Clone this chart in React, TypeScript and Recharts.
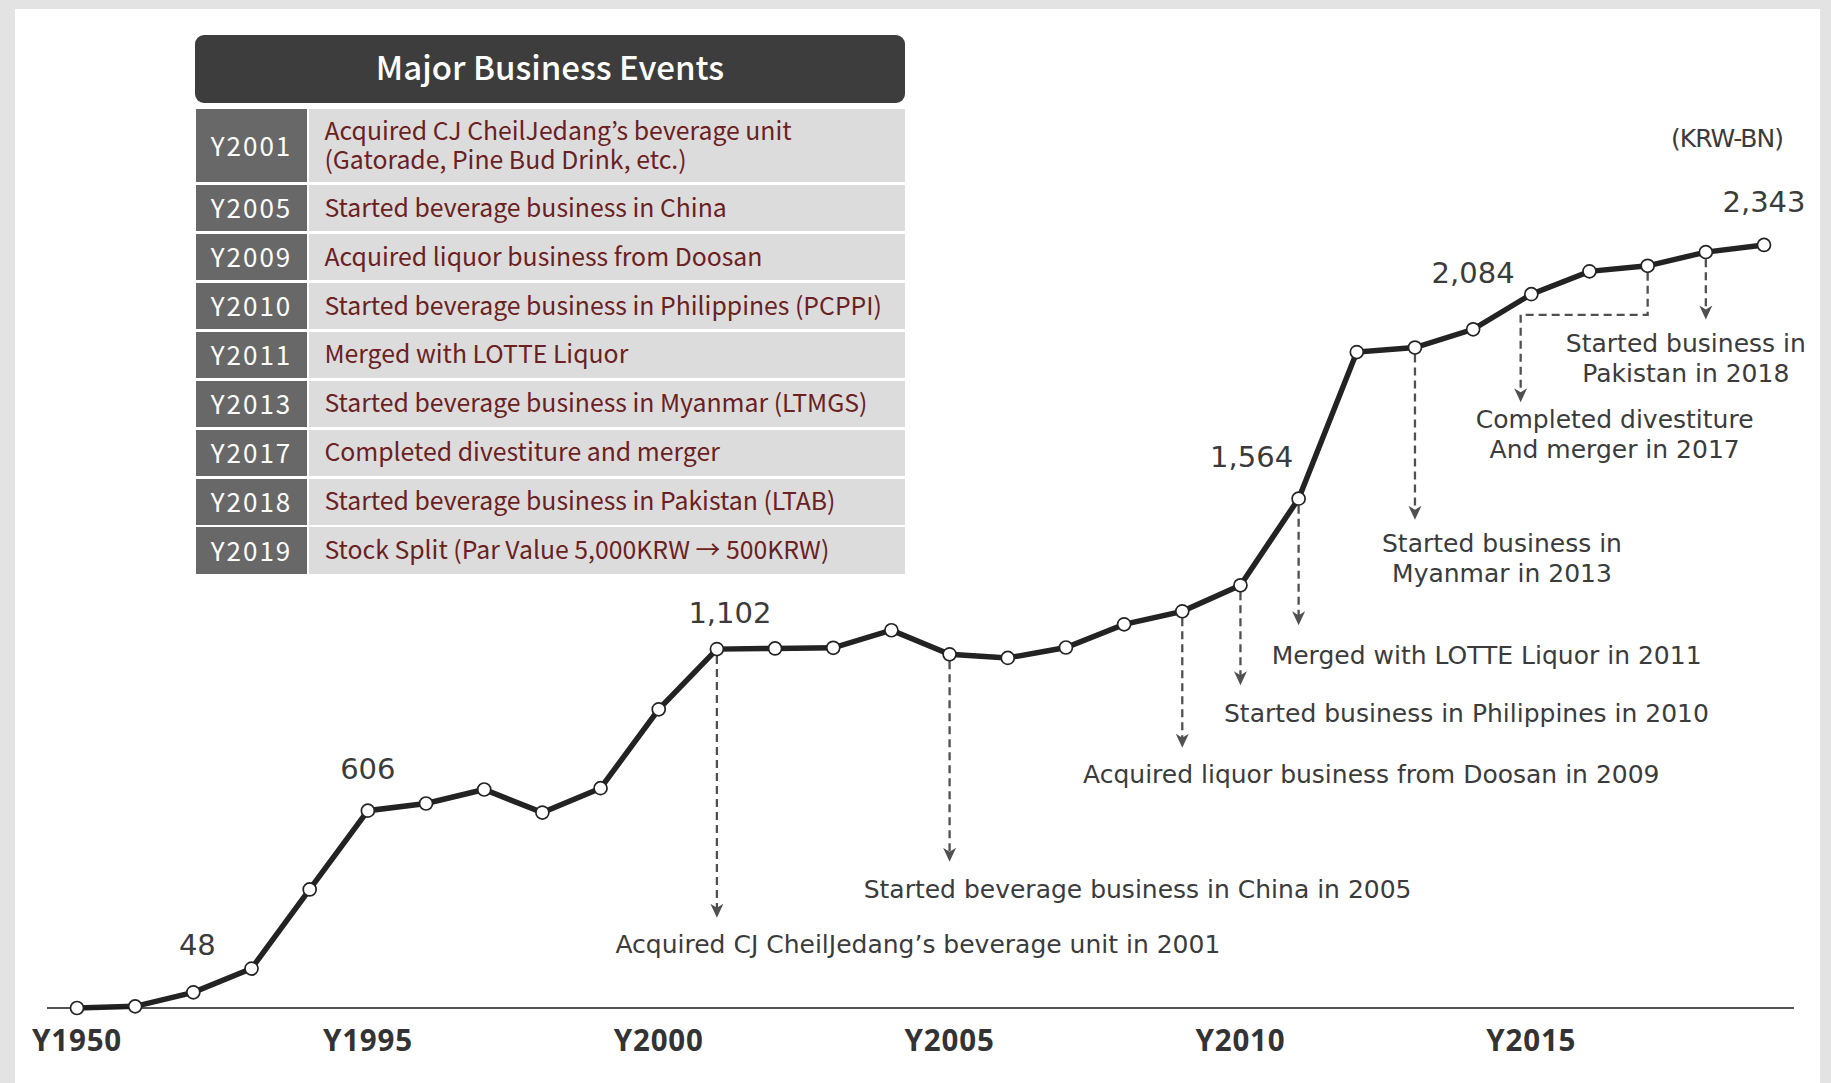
import React from "react";
import { LineChart, Line, XAxis, YAxis, ReferenceLine, LabelList } from "recharts";

// sales by year (KRW-BN)
const years = [
  "1950", "1991", "1992", "1993", "1994", "1995", "1996", "1997", "1998", "1999",
  "2000", "2001", "2002", "2003", "2004", "2005", "2006", "2007", "2008", "2009",
  "2010", "2011", "2012", "2013", "2014", "2015", "2016", "2017", "2018", "2019",
];
const sales = [
  0, 5, 48, 121, 364, 606, 628, 671, 600, 675,
  917, 1102, 1104, 1106, 1160, 1086, 1075, 1107, 1178, 1218,
  1298, 1564, 2014, 2028, 2084, 2192, 2262, 2279, 2321, 2343,
];
const tickYears = ["1950", "1995", "2000", "2005", "2010", "2015"];

// table of major events
const eventYears = ["Y2001", "Y2005", "Y2009", "Y2010", "Y2011", "Y2013", "Y2017", "Y2018", "Y2019"];
const eventTexts = [
  ["Acquired CJ CheilJedang’s beverage unit", "(Gatorade, Pine Bud Drink, etc.)"],
  ["Started beverage business in China"],
  ["Acquired liquor business from Doosan"],
  ["Started beverage business in Philippines (PCPPI)"],
  ["Merged with LOTTE Liquor"],
  ["Started beverage business in Myanmar (LTMGS)"],
  ["Completed divestiture and merger"],
  ["Started beverage business in Pakistan (LTAB)"],
  ["Stock Split (Par Value 5,000KRW → 500KRW)"],
];

// arrow notes on the line
const noteYears = ["2001", "2005", "2009", "2010", "2011", "2013", "2017", "2018"];
const noteTexts = [
  ["Acquired CJ CheilJedang’s beverage unit in 2001"],
  ["Started beverage business in China in 2005"],
  ["Acquired liquor business from Doosan in 2009"],
  ["Started business in Philippines in 2010"],
  ["Merged with LOTTE Liquor in 2011"],
  ["Started business in", "Myanmar in 2013"],
  ["Completed divestiture", "And merger in 2017"],
  ["Started business in", "Pakistan in 2018"],
];

// layout only: where each arrow stops (value units) and text offset from the tip (px)
const noteLayout = [
  { end: 277, dx: 201, dy: 27 },
  { end: 449, dx: 188, dy: 28 },
  { end: 799, dx: 189, dy: 27 },
  { end: 991, dx: 226, dy: 28 },
  { end: 1175, dx: 188, dy: 30 },
  { end: 1499, dx: 87, dy: 24 },
  { end: 1860, dx: 94, dy: 17, elbowDx: -127, elbowDy: 49 },
  { end: 2114, dx: -20, dy: 24 },
];
const labelOffsets: Record<string, [number, number]> = {
  "1992": [4, -47],
  "1995": [0, -42],
  "2001": [13, -36],
  "2011": [-47, -42],
  "2014": [0, -56],
  "2019": [0, -43],
};

const data = years.map((year, i) => ({ year, sales: sales[i] }));

const chartFont = "'DejaVu Sans', sans-serif";
const tableFont = "'Noto Sans CJK KR', 'Noto Sans', sans-serif";
const dashColor = "#505050";
const textColor = "#3b3b3b";

function ValueLabel(props: any) {
  const { x, y, value, index } = props;
  const off = labelOffsets[years[index]];
  if (!off) return null;
  return (
    <text
      x={x + off[0]}
      y={y + off[1]}
      textAnchor="middle"
      dominantBaseline="central"
      fontFamily={chartFont}
      fontSize={29}
      fill={textColor}
    >
      {Number(value).toLocaleString("en-US")}
    </text>
  );
}

function makeNoteShape(i: number) {
  return (p: any) => {
    const layout = noteLayout[i];
    const x1 = Number(p.x1);
    const y1 = Number(p.y1) + 7;
    const y2 = Number(p.y2);
    const tipX = x1 + (layout.elbowDx || 0);
    const tipY = y2;
    const path = layout.elbowDx
      ? `M${x1},${y1} V${y1 - 7 + layout.elbowDy} H${tipX} V${tipY - 9}`
      : `M${x1},${y1} V${tipY - 9}`;
    const lines = noteTexts[i];
    return (
      <g>
        <path d={path} fill="none" stroke={dashColor} strokeWidth={2.3} strokeDasharray="8 5" />
        <path
          d={`M${tipX},${tipY} L${tipX - 6.5},${tipY - 14} L${tipX},${tipY - 10} L${tipX + 6.5},${tipY - 14} Z`}
          fill={dashColor}
        />
        {lines.map((line, k) => (
          <text
            key={k}
            x={tipX + layout.dx}
            y={tipY + layout.dy + k * 30}
            textAnchor="middle"
            dominantBaseline="central"
            fontFamily={chartFont}
            fontSize={25}
            fill={textColor}
          >
            {line}
          </text>
        ))}
      </g>
    );
  };
}

function XTick(props: any) {
  const { x, y, payload } = props;
  return (
    <text
      x={x}
      y={y + 29}
      textAnchor="middle"
      dominantBaseline="central"
      fontFamily="'Noto Sans', sans-serif"
      fontWeight={700}
      fontSize={29.5}
      letterSpacing={0.8}
      fill="#333"
    >
      {`Y${payload.value}`}
    </text>
  );
}

function EventTable() {
  return (
    <div style={{ position: "absolute", left: 195, top: 35, width: 710, fontFamily: tableFont }}>
      <div
        style={{
          height: 68,
          boxSizing: "border-box",
          paddingBottom: 6,
          background: "#3d3d3d",
          borderRadius: 9,
          color: "#fff",
          fontSize: 33,
          fontWeight: 500,
          display: "flex",
          alignItems: "center",
          justifyContent: "center",
        }}
      >
        Major Business Events
      </div>
      <div style={{ display: "flex", flexDirection: "column", gap: 2.6, marginTop: 6, marginLeft: 1 }}>
        {eventYears.map((yr, i) => (
          <div key={yr} style={{ display: "flex", height: i === 0 ? 73 : 46.4, gap: 2.4 }}>
            <div
              style={{
                width: 111,
                boxSizing: "border-box",
                paddingBottom: 3,
                background: "#686868",
                color: "#fff",
                fontSize: 26,
                letterSpacing: 2,
                display: "flex",
                alignItems: "center",
                justifyContent: "center",
              }}
            >
              {yr}
            </div>
            <div
              style={{
                flex: 1,
                boxSizing: "border-box",
                background: "#dcdcdc",
                color: "#6b2121",
                fontSize: 24.8,
                lineHeight: "28.5px",
                paddingLeft: 15,
                paddingBottom: 4,
                whiteSpace: "nowrap",
                display: "flex",
                flexDirection: "column",
                justifyContent: "center",
              }}
            >
              {eventTexts[i].map((t) => (
                <div key={t}>{t}</div>
              ))}
            </div>
          </div>
        ))}
      </div>
    </div>
  );
}

export default function App() {
  return (
    <div
      style={{
        position: "absolute",
        left: 0,
        top: 0,
        width: 1831,
        height: 1083,
        background: "#e3e3e3",
        overflow: "hidden",
      }}
    >
      <div style={{ position: "absolute", left: 15, top: 9, right: 11, bottom: 0, background: "#fff" }} />
      <div style={{ position: "absolute", left: 0, top: 0 }}>
        <LineChart width={1831} height={1083} data={data} margin={{ top: 31, right: 37, bottom: 45, left: 47 }}>
          <XAxis
            dataKey="year"
            ticks={tickYears}
            tick={<XTick />}
            tickLine={false}
            tickSize={0}
            height={30}
            padding={{ left: 30, right: 30 }}
            axisLine={{ stroke: "#1a1a1a", strokeWidth: 1.5 }}
            interval={0}
          />
          <YAxis hide domain={[0, 3000]} />
          {noteYears.map((yr, i) => (
            <ReferenceLine
              key={yr}
              segment={[
                { x: yr, y: sales[years.indexOf(yr)] },
                { x: yr, y: noteLayout[i].end },
              ]}
              shape={makeNoteShape(i)}
              ifOverflow="visible"
            />
          ))}
          <Line
            type="linear"
            dataKey="sales"
            stroke="#232323"
            strokeWidth={5.5}
            dot={{ r: 6.5, fill: "#fff", stroke: "#232323", strokeWidth: 1.7 }}
            activeDot={false}
            isAnimationActive={false}
          >
            <LabelList dataKey="sales" content={<ValueLabel />} />
          </Line>
        </LineChart>
      </div>
      <EventTable />
      <div
        style={{
          position: "absolute",
          left: 1671,
          top: 124,
          fontFamily: chartFont,
          fontSize: 25,
          letterSpacing: -1,
          color: textColor,
        }}
      >
        (KRW-BN)
      </div>
    </div>
  );
}
